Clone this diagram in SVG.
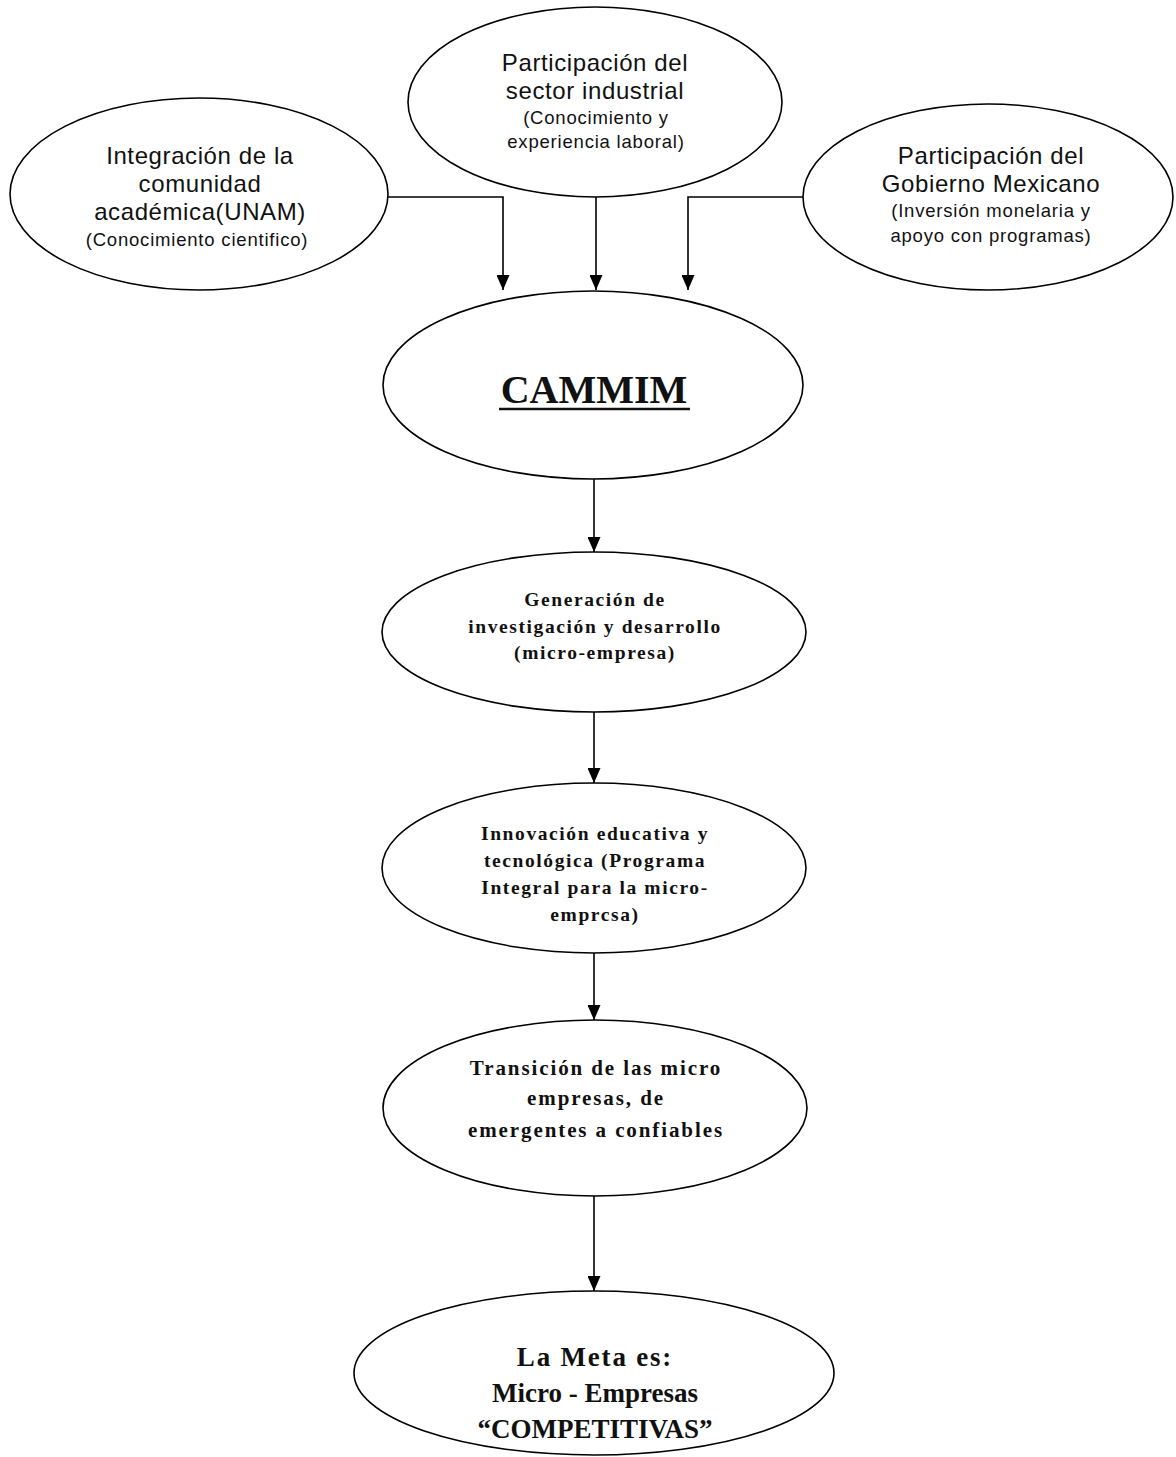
<svg xmlns="http://www.w3.org/2000/svg" width="1176" height="1457" viewBox="0 0 1176 1457">
<defs>
<marker id="arr" viewBox="0 0 15 13" refX="15" refY="6.5" markerWidth="15" markerHeight="13" markerUnits="userSpaceOnUse" orient="auto">
<path d="M0,0 L15,6.5 L0,13 Z" fill="#000"/>
</marker>
<style>
.node ellipse{fill:#fff;stroke:#000;stroke-width:1.6}
.sans{font-family:"Liberation Sans",Arial,sans-serif;fill:#111;text-anchor:middle}
.big{font-size:24px;letter-spacing:0.6px}
.small{font-size:18.5px;letter-spacing:0.8px}
.ser{font-family:"Liberation Serif","Times New Roman",serif;font-weight:bold;fill:#111;text-anchor:middle;font-size:19.5px;letter-spacing:1.6px}
.ser2{font-family:"Liberation Serif","Times New Roman",serif;font-weight:bold;fill:#111;text-anchor:middle;font-size:21px;letter-spacing:1.9px}
.meta{font-family:"Liberation Serif","Times New Roman",serif;font-weight:bold;fill:#111;text-anchor:middle;font-size:27px}
.conn path{fill:none;stroke:#000;stroke-width:1.6}
</style>
</defs>
<rect width="1176" height="1457" fill="#fff"/>
<g id="n-academica" class="node">
<ellipse cx="199" cy="194" rx="189" ry="96"/>
<text class="sans big" x="200" y="164">Integración de la</text>
<text class="sans big" x="200" y="192">comunidad</text>
<text class="sans big" x="200" y="220">académica(UNAM)</text>
<text class="sans small" x="197" y="246">(Conocimiento cientifico)</text>
</g>
<g id="n-industrial" class="node">
<ellipse cx="595" cy="102" rx="187" ry="95"/>
<text class="sans big" x="595" y="71">Participación del</text>
<text class="sans big" x="595" y="99">sector industrial</text>
<text class="sans small" x="596" y="124">(Conocimiento y</text>
<text class="sans small" x="596" y="148">experiencia laboral)</text>
</g>
<g id="n-gobierno" class="node">
<ellipse cx="988" cy="197" rx="185" ry="93"/>
<text class="sans big" x="991" y="164">Participación del</text>
<text class="sans big" x="991" y="192">Gobierno Mexicano</text>
<text class="sans small" x="991" y="217">(Inversión monelaria y</text>
<text class="sans small" x="991" y="242">apoyo con programas)</text>
</g>
<g id="n-cammim" class="node">
<ellipse cx="593" cy="385" rx="210" ry="94"/>
<text x="594" y="403" font-family="Liberation Serif,'Times New Roman',serif" font-weight="bold" font-size="40" text-anchor="middle" fill="#111">CAMMIM</text>
<line x1="499" y1="409" x2="690" y2="409" stroke="#111" stroke-width="2.5"/>
</g>
<g id="n-generacion" class="node">
<ellipse cx="594" cy="632" rx="212" ry="80"/>
<text class="ser" x="595" y="606">Generación de</text>
<text class="ser" x="595" y="633">investigación y desarrollo</text>
<text class="ser" x="595" y="659">(micro-empresa)</text>
</g>
<g id="n-innovacion" class="node">
<ellipse cx="594" cy="868" rx="212" ry="85"/>
<text class="ser" x="595" y="840">Innovación educativa y</text>
<text class="ser" x="595" y="867">tecnológica (Programa</text>
<text class="ser" x="595" y="894">Integral para la micro-</text>
<text class="ser" x="595" y="921">emprcsa)</text>
</g>
<g id="n-transicion" class="node">
<ellipse cx="595" cy="1108" rx="212" ry="88"/>
<text class="ser2" x="596" y="1075">Transición de las micro</text>
<text class="ser2" x="596" y="1105">empresas, de</text>
<text class="ser2" x="596" y="1137">emergentes a confiables</text>
</g>
<g id="n-meta" class="node">
<ellipse cx="594" cy="1373" rx="240" ry="82"/>
<text class="meta" x="595" y="1366" letter-spacing="1.8">La Meta es:</text>
<text class="meta" x="595" y="1402">Micro - Empresas</text>
<text class="meta" x="595" y="1438">“COMPETITIVAS”</text>
</g>
<g id="connectors" class="conn">
<path d="M388,197 H503 V290" marker-end="url(#arr)"/>
<path d="M596,197 V290" marker-end="url(#arr)"/>
<path d="M803,197 H688 V290" marker-end="url(#arr)"/>
<path d="M594,479 V552" marker-end="url(#arr)"/>
<path d="M594,712 V783" marker-end="url(#arr)"/>
<path d="M594,953 V1020" marker-end="url(#arr)"/>
<path d="M594,1196 V1291" marker-end="url(#arr)"/>
</g>
</svg>
